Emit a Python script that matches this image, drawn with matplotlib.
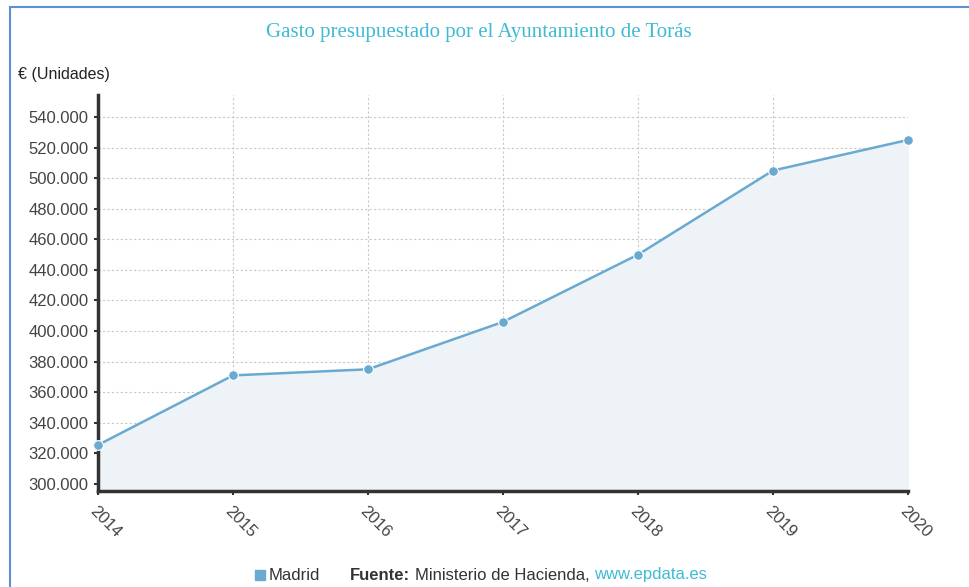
import matplotlib
matplotlib.use("Agg")
import matplotlib.pyplot as plt
from matplotlib.patches import Rectangle
from matplotlib.ticker import FuncFormatter

years = [2014, 2015, 2016, 2017, 2018, 2019, 2020]
gasto = [325500, 371000, 375000, 406000, 450000, 505000, 525000]
yticks = list(range(300000, 540001, 20000))

line_col = "#6aa9d0"
cyan = "#3fbad5"

plt.rcParams["font.family"] = ["Liberation Sans", "DejaVu Sans"]

fig = plt.figure(figsize=(9.69, 5.87), dpi=100)
ax = fig.add_axes([98 / 969, 1 - 491 / 587, 810 / 969, 396 / 587])

# frame around the widget
fig.patches.append(Rectangle((10 / 969, -0.05), 1.2, 1 - 7 / 587 + 0.05,
                             transform=fig.transFigure, fill=False,
                             edgecolor="#5b8fd6", linewidth=1.5))

ax.fill_between(years, gasto, 295000, color="#eef3f7", zorder=1)
ax.plot(years, gasto, color=line_col, linewidth=1.8, marker="o",
        markersize=7, markerfacecolor=line_col, markeredgecolor="white",
        markeredgewidth=0.8, zorder=3, clip_on=False)

ax.set_xlim(2014, 2020)
ax.set_ylim(295400, 554400)
ax.set_xticks(years)
ax.set_yticks(yticks)
ax.yaxis.set_major_formatter(FuncFormatter(lambda v, p: f"{int(v):,}".replace(",", ".")))
ax.set_xticklabels([str(y) for y in years], rotation=-45, ha="left",
                   va="top", rotation_mode="anchor")

ax.grid(True, color="#c8c8c8", linestyle=(0, (2, 2)), linewidth=0.8)
ax.set_axisbelow(True)
for s in ["top", "right"]:
    ax.spines[s].set_visible(False)
for s in ["left", "bottom"]:
    ax.spines[s].set_color("#333333")
    ax.spines[s].set_linewidth(2.5)
ax.tick_params(axis="y", colors="#333333", labelcolor="#444444",
               labelsize=12, length=3, width=1.5, pad=4)
ax.tick_params(axis="x", colors="#333333", labelcolor="#444444",
               labelsize=12, length=3, width=1.5, pad=6)

fig.text(479 / 969, 1 - 33 / 587, "Gasto presupuestado por el Ayuntamiento de Torás",
         ha="center", va="center", color=cyan, fontsize=15,
         family=["Liberation Serif", "DejaVu Serif"])
fig.text(18 / 969, 1 - 74 / 587, "€ (Unidades)", ha="left", va="center",
         fontsize=11.5, color="#222222")

yb = 1 - 575 / 587
fig.patches.append(Rectangle((255 / 969, yb - 5 / 587), 10 / 969, 10 / 587,
                             transform=fig.transFigure, color=line_col))
fig.text(269 / 969, yb, "Madrid", ha="left", va="center", fontsize=12, color="#333333")
fig.text(350 / 969, yb, "Fuente:", ha="left", va="center", fontsize=12,
         color="#333333", fontweight="bold")
fig.text(415 / 969, yb, "Ministerio de Hacienda,", ha="left", va="center",
         fontsize=12, color="#333333")
fig.text(594 / 969, yb, "www.epdata.es", ha="left", va="center", fontsize=12,
         color=cyan)

fig.savefig("out.png", dpi=100)
